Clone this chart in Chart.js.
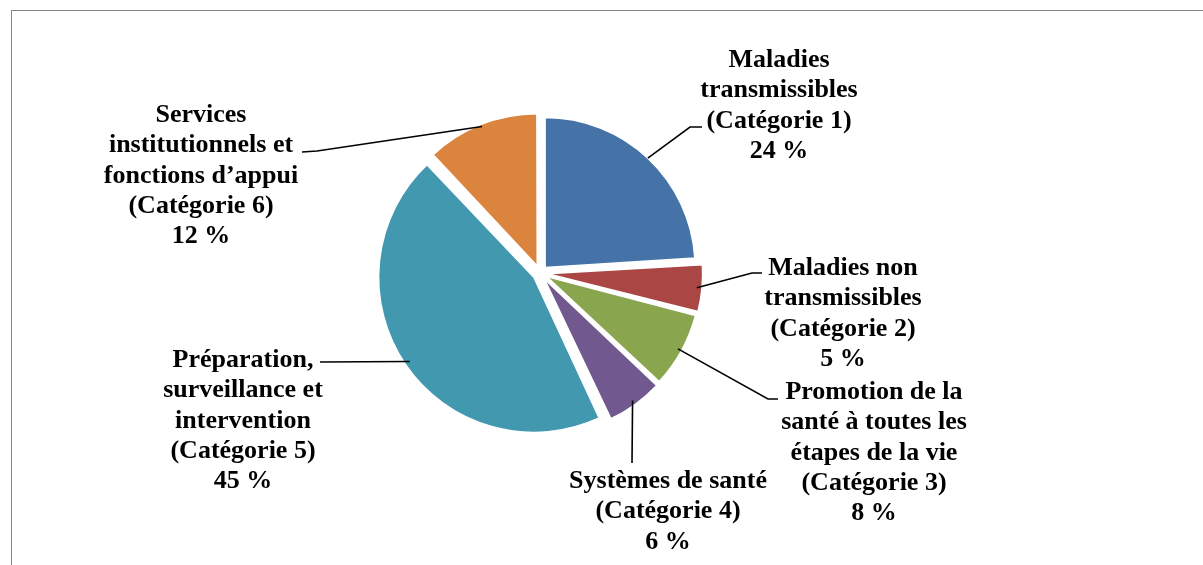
<!DOCTYPE html>
<html lang="fr">
<head>
<meta charset="UTF-8">
<title>Répartition par catégorie</title>
<script src="https://cdn.jsdelivr.net/npm/chart.js"></script>
<style>
  body{margin:0;background:#fff;overflow:hidden;}
  #frame{position:absolute;left:11px;top:10px;width:1400px;height:800px;border-top:1px solid #868686;border-left:1px solid #868686;}
  #wrap{position:absolute;left:0;top:0;width:1203px;height:565px;}
</style>
</head>
<body>
<div id="frame"></div>
<div id="wrap"><canvas id="pieChart"></canvas></div>
<script>
// valeurs (en %)
const categories = [
  "Maladies transmissibles (Catégorie 1)",
  "Maladies non transmissibles (Catégorie 2)",
  "Promotion de la santé à toutes les étapes de la vie (Catégorie 3)",
  "Systèmes de santé (Catégorie 4)",
  "Préparation, surveillance et intervention (Catégorie 5)",
  "Services institutionnels et fonctions d’appui (Catégorie 6)"
];
const shares = [24, 5, 8, 6, 45, 12];
const sliceColors = ["#4572A7", "#AA4643", "#89A54E", "#71588F", "#4198AF", "#DB843D"];

// texte des étiquettes, coupé comme dans l'original
const labelLines = [
  ["Maladies", "transmissibles", "(Catégorie 1)"],
  ["Maladies non", "transmissibles", "(Catégorie 2)"],
  ["Promotion de la", "santé à toutes les", "étapes de la vie", "(Catégorie 3)"],
  ["Systèmes de santé", "(Catégorie 4)"],
  ["Préparation,", "surveillance et", "intervention", "(Catégorie 5)"],
  ["Services", "institutionnels et", "fonctions d’appui", "(Catégorie 6)"]
];

// placement des étiquettes : centre x, 1re ligne de base, coude et bout du trait
const labelLayout = [
  {x: 779, y: 67,  bend: [690, 127], end: [702, 127]},
  {x: 843, y: 275, bend: [752, 273], end: [762, 273]},
  {x: 874, y: 399, bend: [768, 399], end: [778, 399]},
  {x: 668, y: 488, bend: [632, 463], end: [632, 463]},
  {x: 243, y: 367, bend: [320, 362], end: [320, 362]},
  {x: 201, y: 122, bend: [317, 151], end: [302, 152]}
];
const lineGap = 30.3;
const sliceOffset = 30;

const leaderLabels = {
  id: 'leaderLabels',
  afterDatasetsDraw(chart) {
    const ctx = chart.ctx;
    const meta = chart.getDatasetMeta(0);
    ctx.save();
    ctx.strokeStyle = '#000';
    ctx.lineWidth = 1.6;
    ctx.fillStyle = '#000';
    ctx.font = 'bold 26px "Liberation Serif", "Times New Roman", serif';
    ctx.textAlign = 'center';
    ctx.textBaseline = 'alphabetic';
    meta.data.forEach(function(arc, i){
      const p = arc.getProps(['x', 'y', 'startAngle', 'endAngle', 'outerRadius'], true);
      const mid = (p.startAngle + p.endAngle) / 2;
      const off = (arc.options.offset || 0) / 4;
      const r = p.outerRadius + off;
      const sx = p.x + Math.cos(mid) * r;
      const sy = p.y + Math.sin(mid) * r;
      const L = labelLayout[i];
      ctx.beginPath();
      ctx.moveTo(sx, sy);
      ctx.lineTo(L.bend[0], L.bend[1]);
      ctx.lineTo(L.end[0], L.end[1]);
      ctx.stroke();
      const lines = labelLines[i].concat([shares[i] + ' %']);
      lines.forEach(function(t, k){
        ctx.fillText(t, L.x, L.y + k * lineGap);
      });
    });
    ctx.restore();
  }
};

new Chart(document.getElementById('pieChart'), {
  type: 'pie',
  data: {
    labels: categories,
    datasets: [{
      data: shares,
      backgroundColor: sliceColors,
      borderColor: '#fff',
      borderWidth: 1.5,
      offset: sliceOffset
    }]
  },
  options: {
    responsive: true,
    maintainAspectRatio: false,
    animation: false,
    radius: 150,
    layout: {padding: {left: 0, right: 123, top: 0, bottom: 19}},
    plugins: {
      legend: {display: false},
      tooltip: {enabled: false}
    }
  },
  plugins: [leaderLabels]
});
</script>
</body>
</html>
